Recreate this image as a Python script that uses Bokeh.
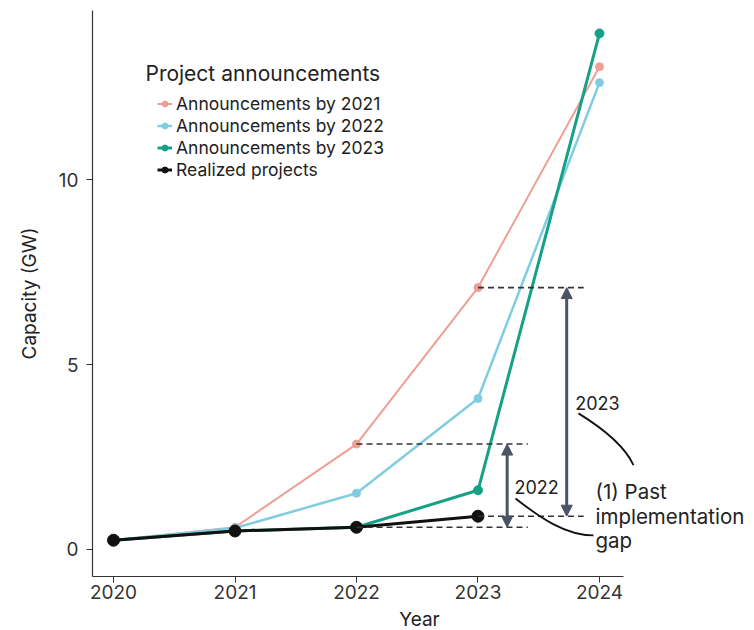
from bokeh.plotting import figure
from bokeh.models import Range1d, FixedTicker, Legend, LegendItem, Label, Arrow, NormalHead
from bokeh.embed import file_html
from bokeh.resources import INLINE

# ---- data ----
years = [2020, 2021, 2022, 2023, 2024]
ann_2021 = [0.25, 0.6, 2.85, 7.08, 13.05]
ann_2022 = [0.25, 0.58, 1.52, 4.08, 12.62]
ann_2023 = [0.25, 0.5, 0.6, 1.6, 13.95]
realized_years = [2020, 2021, 2022, 2023]
realized = [0.25, 0.5, 0.6, 0.9]
series_labels = ["Announcements by 2021", "Announcements by 2022",
                 "Announcements by 2023", "Realized projects"]
legend_title = "Project announcements"
y_ticks = [0, 5, 10]

FONT = "Inter"
PINK = "#ee9f95"
BLUE = "#80cde2"
TEAL = "#16a085"
BLACK = "#111111"
ARROW = "#4a5466"

p = figure(frame_width=654, frame_height=566, output_backend="svg", toolbar_location=None,
           x_range=Range1d(2019.827, 2025.21), y_range=Range1d(-0.73, 14.57),
           min_border_left=92, min_border_right=8, min_border_top=10, min_border_bottom=5)
p.outline_line_color = None
p.grid.visible = False
p.background_fill_color = "white"

# axes
for ax in (p.xaxis, p.yaxis):
    ax.axis_line_color = "#333333"
    ax.axis_line_width = 1.2
    ax.major_tick_line_color = "#333333"
    ax.major_tick_out = 6
    ax.major_tick_in = 0
    ax.minor_tick_line_color = None
    ax.major_label_text_font = FONT
    ax.major_label_text_font_size = "19px"
    ax.major_label_text_color = "#333333"
    ax.axis_label_text_font = FONT
    ax.axis_label_text_font_size = "19px"
    ax.axis_label_text_font_style = "normal"
    ax.axis_label_text_color = "#222222"

p.xaxis.ticker = FixedTicker(ticks=years)
p.xaxis.bounds = (2019.827, 2024.2)
p.xaxis.axis_label = "Year"
p.xaxis.major_label_standoff = 2
p.xaxis.axis_label_standoff = 6
p.yaxis.ticker = FixedTicker(ticks=y_ticks)
p.yaxis.axis_label = "Capacity (GW)"
p.yaxis.major_label_standoff = 8
p.yaxis.axis_label_standoff = 15

# series
r_items = []
specs = [(ann_2021, years, PINK, 2, 8), (ann_2022, years, BLUE, 2.5, 8),
         (ann_2023, years, TEAL, 3, 9), (realized, realized_years, BLACK, 3, 12)]
for (vals, xs, col, lw, sz), lab in zip(specs, series_labels):
    ln = p.line(xs, vals, line_color=col, line_width=lw)
    sc = p.scatter(xs, vals, size=sz, fill_color=col, line_color=col)
    r_items.append(LegendItem(label=lab, renderers=[ln, sc]))

legend = Legend(items=r_items, location=(65, 396), padding=0, margin=0, spacing=1,
                label_height=21, glyph_height=21, glyph_width=15, label_standoff=4,
                border_line_color=None, background_fill_alpha=0,
                label_text_font=FONT, label_text_font_size="17.5px",
                label_text_color="#222222")
p.add_layout(legend)
p.add_layout(Label(x=2020.263, y=12.865, text=legend_title, text_font=FONT,
                   text_font_size="21px", text_color="#222222", text_baseline="middle"))

# implementation gap: dashed guides and arrows, derived from data
gap_years = [2022, 2023]
gap_ends = [2023.41, 2023.87]
arrow_x = [2023.24, 2023.73]
seg_x0, seg_x1, seg_y = [], [], []
for gy, ge in zip(gap_years, gap_ends):
    i = years.index(gy)
    j = realized_years.index(gy)
    for yv in (ann_2021[i], realized[j]):
        seg_x0.append(gy)
        seg_x1.append(ge)
        seg_y.append(yv)
p.segment(x0=seg_x0, y0=seg_y, x1=seg_x1, y1=seg_y, line_color="#333333",
          line_width=1.6, line_dash="6 4")
for gy, ax_ in zip(gap_years, arrow_x):
    i = years.index(gy)
    j = realized_years.index(gy)
    p.add_layout(Arrow(x_start=ax_, y_start=realized[j], x_end=ax_, y_end=ann_2021[i],
                       line_color=ARROW, line_width=3,
                       start=NormalHead(size=11, fill_color=ARROW, line_color=ARROW),
                       end=NormalHead(size=11, fill_color=ARROW, line_color=ARROW)))

# connectors
p.bezier(x0=[2023.827, 2023.309], y0=[3.68, 1.38],
         x1=[2024.28, 2023.95], y1=[2.28, 0.38],
         cx0=[2024.03, 2023.51], cy0=[3.27, 0.86],
         cx1=[2024.21, 2023.72], cy1=[2.78, 0.38],
         line_color=BLACK, line_width=1.8)

lab_style = dict(text_font=FONT, text_font_size="18px", text_color="#222222",
                 text_baseline="middle")
p.add_layout(Label(x=2023.80, y=3.97, text="2023", **lab_style))
p.add_layout(Label(x=2023.30, y=1.68, text="2022", **lab_style))
big = dict(text_font=FONT, text_font_size="20.5px", text_color="#222222", text_baseline="middle")
p.add_layout(Label(x=2023.967, y=1.57, text="(1) Past", **big))
p.add_layout(Label(x=2023.967, y=0.90, text="implementation", **big))
p.add_layout(Label(x=2023.967, y=0.23, text="gap", **big))

open("out.html", "w").write(file_html(p, INLINE))
